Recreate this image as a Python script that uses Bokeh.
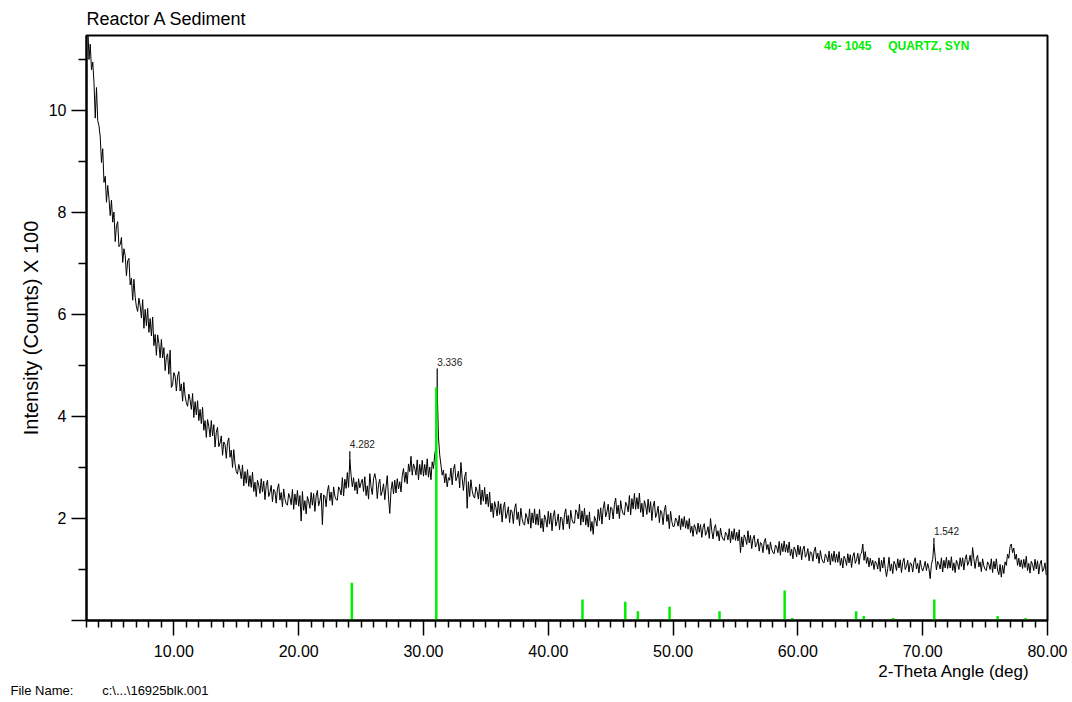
import numpy as np
from bokeh.plotting import figure
from bokeh.models import Range1d, FixedTicker, Title, Label
from bokeh.core.properties import value
from bokeh.embed import file_html
from bokeh.resources import INLINE

# ---------------- data ----------------
title_text = "Reactor A Sediment"
x_label = "2-Theta Angle (deg)"
y_label = "Intensity (Counts) X 100"
file_name = "File Name:" + "\u00a0" * 8 + "c:\\...\\16925blk.001"
card_text = "46- 1045" + "\u00a0" * 5 + "QUARTZ, SYN"

theta_start = 3.1
theta_step = 0.1
# intensity (counts / 100), every 0.1 deg from 3.1 deg
intensity = [
    11.7, 11.0, 11.3, 10.8, 10.95, 10.55, 9.85, 10.45, 9.8, 9.7,
    9.48, 8.98, 9.25, 8.59, 8.71, 8.2, 8.53, 8.28, 7.94, 8.24,
    7.81, 8.01, 7.43, 7.74, 7.82, 7.33, 7.37, 7.51, 7.02, 7.29,
    7.16, 6.76, 7.05, 7.1, 6.58, 6.71, 6.28, 6.69, 6.34, 6.15,
    6.06, 6.32, 6.17, 5.93, 6.29, 5.73, 6.1, 5.78, 6.12, 5.65,
    5.92, 5.58, 5.95, 5.39, 5.61, 5.2, 5.6, 5.43, 5.15, 5.51,
    5.15, 5.35, 4.9, 5.16, 5.23, 4.83, 5.3, 4.57, 4.62, 4.86,
    4.79, 4.5, 4.79, 4.88, 4.5, 4.64, 4.3, 4.67, 4.4, 4.27,
    4.2, 4.44, 4.33, 4.14, 4.45, 3.98, 4.29, 4.03, 4.31, 3.92,
    4.14, 3.86, 4.18, 3.73, 3.92, 3.59, 3.94, 3.81, 3.6, 3.92,
    3.62, 3.84, 3.4, 3.69, 3.79, 3.41, 3.48, 3.62, 3.24, 3.5,
    3.45, 3.18, 3.49, 3.58, 3.2, 3.34, 3.0, 3.35, 3.07, 2.92,
    2.87, 3.06, 2.95, 2.78, 3.05, 2.64, 2.92, 2.69, 2.96, 2.63,
    2.84, 2.61, 2.91, 2.53, 2.71, 2.43, 2.75, 2.65, 2.49, 2.78,
    2.52, 2.73, 2.37, 2.65, 2.75, 2.43, 2.51, 2.65, 2.33, 2.57,
    2.53, 2.3, 2.58, 2.68, 2.36, 2.51, 2.23, 2.58, 2.38, 2.29,
    2.26, 2.49, 2.41, 2.27, 2.57, 2.18, 2.48, 2.27, 2.55, 2.24,
    2.45, 1.95, 2.53, 2.16, 2.35, 2.09, 2.43, 2.34, 2.2, 2.51,
    2.26, 2.49, 2.14, 2.44, 2.55, 2.25, 2.35, 2.5, 1.88, 2.46,
    2.44, 2.23, 2.53, 2.65, 2.35, 2.52, 2.26, 2.62, 2.44, 2.37,
    2.36, 2.62, 2.57, 2.46, 2.8, 2.44, 2.77, 2.59, 2.9, 2.61,
    3.17, 2.85, 2.62, 2.8, 2.55, 2.72, 2.48, 2.78, 2.6, 2.7,
    2.77, 2.53, 2.82, 2.45, 2.64, 2.38, 2.88, 2.62, 2.47, 2.78,
    2.88, 2.75, 2.39, 2.67, 2.77, 2.45, 2.54, 2.68, 2.37, 2.62,
    2.84, 2.4, 2.1, 2.55, 2.72, 2.48, 2.75, 2.5, 2.78, 2.58,
    2.72, 2.52, 2.84, 2.98, 2.71, 2.91, 2.68, 3.07, 2.92, 3.22,
    2.85, 3.07, 2.99, 2.85, 3.15, 2.76, 3.06, 2.86, 3.14, 2.83,
    3.06, 2.85, 3.17, 2.81, 3.01, 2.76, 3.11, 2.98, 3.25, 3.4,
    4.57, 3.6, 3.25, 3.05, 2.85, 2.95, 2.7, 2.88, 2.62, 2.8,
    2.75, 2.99, 2.66, 2.96, 3.06, 2.74, 2.81, 2.93, 2.6, 3.1,
    2.79, 2.55, 2.82, 2.91, 2.2, 2.72, 2.43, 2.76, 2.55, 2.44,
    2.4, 2.62, 2.53, 2.38, 2.67, 2.27, 2.56, 2.34, 2.61, 2.28,
    2.48, 2.23, 2.52, 2.13, 2.3, 2.02, 2.33, 2.22, 2.05, 2.34,
    2.08, 2.29, 1.93, 2.21, 2.32, 2.0, 2.09, 2.23, 1.92, 2.17,
    2.13, 1.9, 2.19, 2.29, 1.98, 2.13, 1.86, 2.2, 2.0, 1.9,
    1.87, 2.1, 2.02, 1.89, 2.19, 1.81, 2.11, 1.91, 2.19, 1.88,
    2.09, 1.87, 2.18, 1.81, 2.0, 1.74, 2.07, 1.98, 1.83, 2.14,
    1.89, 2.11, 1.76, 2.05, 2.16, 1.85, 1.94, 2.09, 1.78, 2.03,
    2.0, 1.78, 2.08, 2.19, 1.89, 2.06, 1.8, 2.16, 1.98, 1.91,
    1.91, 2.17, 2.12, 1.99, 2.28, 1.87, 2.15, 1.93, 2.2, 1.87,
    2.07, 1.83, 2.13, 1.75, 1.94, 1.69, 2.04, 1.97, 1.85, 2.18,
    1.96, 2.21, 1.89, 2.2, 2.33, 2.03, 2.13, 2.28, 1.97, 2.22,
    2.2, 1.99, 2.28, 2.4, 2.09, 2.26, 2.0, 2.35, 2.17, 2.09,
    2.07, 2.32, 2.26, 2.13, 2.45, 2.07, 2.39, 2.19, 2.49, 2.18,
    2.41, 2.19, 2.5, 2.12, 2.3, 2.03, 2.35, 2.25, 2.08, 2.38,
    2.12, 2.33, 1.96, 2.24, 2.34, 2.02, 2.1, 2.24, 1.92, 2.16,
    2.11, 1.88, 2.16, 2.26, 1.94, 2.08, 1.8, 2.14, 1.94, 1.84,
    1.85, 2.01, 1.96, 1.85, 2.06, 1.78, 2.0, 1.84, 2.04, 1.81,
    1.96, 1.79, 2.0, 1.72, 1.85, 1.65, 1.88, 1.81, 1.69, 1.91,
    1.73, 1.88, 1.63, 1.82, 1.9, 1.67, 1.73, 1.84, 1.61, 2.0,
    1.76, 1.6, 1.8, 1.88, 1.65, 1.76, 1.56, 1.81, 1.66, 1.59,
    1.57, 1.73, 1.69, 1.58, 1.8, 1.52, 1.75, 1.59, 1.8, 1.57,
    1.73, 1.56, 1.78, 1.33, 1.64, 1.44, 1.68, 1.61, 1.49, 1.76,
    1.52, 1.67, 1.41, 1.6, 1.67, 1.44, 1.49, 1.6, 1.36, 1.53,
    1.5, 1.33, 1.54, 1.61, 1.39, 1.49, 1.3, 1.54, 1.4, 1.33,
    1.31, 1.48, 1.44, 1.33, 1.55, 1.28, 1.51, 1.35, 1.56, 1.34,
    1.49, 1.33, 1.54, 1.27, 1.4, 1.21, 1.44, 1.38, 1.25, 1.48,
    1.29, 1.45, 1.19, 1.39, 1.46, 1.24, 1.29, 1.41, 1.17, 1.35,
    1.32, 1.16, 1.36, 1.44, 1.21, 1.32, 1.12, 1.37, 1.22, 1.15,
    1.13, 1.3, 1.25, 1.15, 1.36, 1.09, 1.31, 1.16, 1.36, 1.14,
    1.3, 1.14, 1.35, 1.08, 1.22, 1.03, 1.26, 1.2, 1.08, 1.31,
    1.13, 1.29, 1.04, 1.25, 1.33, 1.12, 1.19, 1.32, 1.1, 1.3,
    1.32, 1.5, 1.18, 1.35, 1.12, 1.24, 1.05, 1.22, 1.08, 1.18,
    1.0, 1.16, 1.12, 1.01, 1.23, 0.96, 1.18, 1.03, 1.24, 1.02,
    0.86, 1.02, 1.24, 0.97, 1.11, 0.92, 1.16, 1.1, 0.98, 1.21,
    1.03, 1.19, 0.94, 1.14, 1.22, 1.0, 1.06, 1.18, 0.95, 1.13,
    1.11, 0.95, 1.15, 1.23, 1.01, 1.12, 0.93, 1.18, 1.04, 0.97,
    1.05, 1.16, 0.98, 1.12, 1.02, 0.82, 1.1, 1.2, 1.5, 1.25,
    0.99, 1.16, 1.11, 1.01, 1.23, 0.95, 1.18, 1.03, 1.24, 1.02,
    1.18, 1.03, 1.25, 0.98, 1.13, 0.94, 1.18, 1.12, 1.0, 1.23,
    1.06, 1.23, 0.99, 1.2, 1.29, 1.08, 1.15, 1.28, 1.07, 1.43,
    1.21, 1.02, 1.21, 1.28, 1.05, 1.15, 0.96, 1.21, 1.07, 1.0,
    0.98, 1.15, 1.1, 1.0, 1.21, 0.94, 1.16, 1.01, 1.21, 0.99,
    0.9, 1.1, 0.85, 1.08, 0.92, 1.15, 1.08, 1.3, 1.22, 1.45,
    1.5, 1.33, 1.42, 1.2, 1.3, 1.08, 1.22, 1.05, 1.19, 1.02,
    1.2, 1.04, 1.26, 0.98, 1.12, 0.93, 1.16, 1.1, 0.98, 1.2,
    1.01, 1.17, 0.91, 1.11, 1.18, 0.96, 1.01, 1.13, 0.89,
]
two_theta = np.round(theta_start + theta_step * np.arange(len(intensity)), 2)

# reference pattern 46-1045 (quartz) sticks
stick_theta = [24.26, 31.03, 42.74, 46.17, 47.18, 49.72, 53.72, 58.94, 59.55,
               64.67, 65.28, 67.63, 70.93, 76.0, 78.24]
stick_height = [0.74, 4.57, 0.41, 0.37, 0.18, 0.27, 0.18, 0.59, 0.05,
                0.18, 0.09, 0.05, 0.41, 0.09, 0.05]

# labelled peaks (d-spacings)
peak_theta = [24.1, 31.1, 70.9]
peak_d = ["4.282", "3.336", "1.542"]
peak_mark_top = [3.32, 4.94, 1.62]

x_ticks = [10, 20, 30, 40, 50, 60, 70, 80]
x_tick_labels = {t: f"{t:.2f}" for t in x_ticks}
y_ticks = [0, 2, 4, 6, 8, 10]
y_tick_labels = {0: "", 2: "2", 4: "4", 6: "6", 8: "8", 10: "10"}

FONT = "Liberation Sans"
GREEN = "#00ee00"

# ---------------- figure ----------------
p = figure(width=1072, height=702, output_backend="svg", toolbar_location=None,
           x_range=Range1d(3.0, 80.0), y_range=Range1d(0, 11.47),
           min_border_left=86, min_border_right=25, min_border_top=35,
           min_border_bottom=82)
p.background_fill_color = "white"
p.border_fill_color = "white"
p.outline_line_color = "black"
p.outline_line_width = 2
p.xgrid.visible = False
p.ygrid.visible = False

p.title.text = title_text
p.title.text_font = FONT
p.title.text_font_size = "18px"
p.title.text_font_style = "normal"
p.title.text_color = "black"
p.title.align = "left"
p.title.standoff = 13

# axes
minor_x = [t for t in range(3, 81) if t % 10 != 0]
p.xaxis.ticker = FixedTicker(ticks=x_ticks, minor_ticks=minor_x)
p.xaxis.major_label_overrides = x_tick_labels
p.yaxis.ticker = FixedTicker(ticks=y_ticks, minor_ticks=[1, 3, 5, 7, 9, 11])
p.yaxis.major_label_overrides = y_tick_labels

for ax in (p.xaxis[0], p.yaxis[0]):
    ax.axis_line_width = 2
    ax.axis_line_color = "black"
    ax.major_tick_line_color = "black"
    ax.minor_tick_line_color = "black"
    ax.major_tick_line_width = 1.5
    ax.minor_tick_line_width = 1.5
    ax.major_tick_in = 0
    ax.minor_tick_in = 0
    ax.major_tick_out = 15
    ax.major_label_text_font = FONT
    ax.major_label_text_font_size = "16px"
    ax.major_label_text_color = "black"

p.xaxis.minor_tick_out = 7
p.yaxis.minor_tick_out = 8
p.xaxis.major_label_standoff = 9
p.yaxis.major_label_standoff = 5

p.yaxis.axis_label = y_label
p.yaxis.axis_label_text_font = FONT
p.yaxis.axis_label_text_font_size = "20px"
p.yaxis.axis_label_text_font_style = "normal"
p.yaxis.axis_label_text_color = "black"
p.yaxis.axis_label_standoff = 4

# x label, right aligned below the tick labels
p.add_layout(Title(text=x_label, align="right", offset=18, standoff=0,
                   text_font=FONT, text_font_size="17px",
                   text_font_style="normal", text_color="black"), "below")
# file name line
p.add_layout(Title(text=file_name, align="left", offset=-76, standoff=0,
                   text_font=FONT, text_font_size="13px",
                   text_font_style="normal", text_color="black"), "below")

# ---------------- glyphs ----------------
p.line(two_theta, intensity, line_color="black", line_width=1.0)

peak_idx = [int(np.argmin(np.abs(two_theta - t))) for t in peak_theta]
peak_val = [intensity[i] for i in peak_idx]
p.segment(x0=peak_theta, y0=peak_val, x1=peak_theta, y1=peak_mark_top,
          line_color="black", line_width=1.2)
p.text(x=peak_theta, y=peak_mark_top, text=peak_d, text_font=value(FONT),
       text_font_size="10px", text_align="left", text_baseline="bottom",
       y_offset=-3, text_color="#222222")

p.segment(x0=stick_theta, y0=[0] * len(stick_theta), x1=stick_theta,
          y1=stick_height, line_color=GREEN, line_width=2.5)

p.add_layout(Label(x=62.1, y=11.27, text=card_text, text_font=FONT,
                   text_font_size="12px", text_font_style="bold",
                   text_color=GREEN, text_baseline="middle"))

open("out.html", "w").write(file_html(p, INLINE))
